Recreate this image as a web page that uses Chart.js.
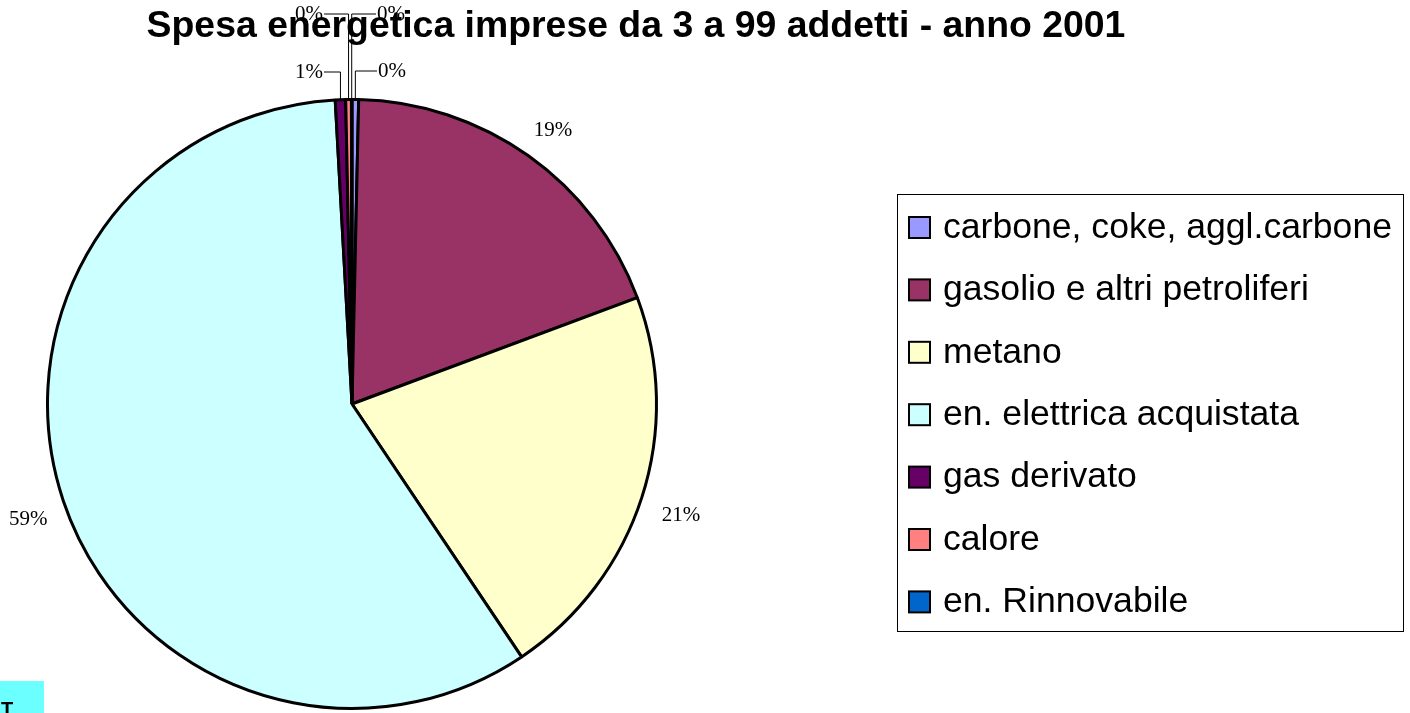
<!DOCTYPE html>
<html>
<head>
<meta charset="utf-8">
<title>Spesa energetica</title>
<script src="https://cdn.jsdelivr.net/npm/chart.js@4.4.0/dist/chart.umd.min.js"></script>
<style>
  body { margin: 0; background: #fff; }
  canvas { display: block; }
</style>
</head>
<body>
<canvas id="myChart" width="1410" height="713"></canvas>
<script>
//DATI
var categorie = ["carbone, coke, aggl.carbone", "gasolio e altri petroliferi", "metano",
                 "en. elettrica acquistata", "gas derivato", "calore", "en. Rinnovabile"];
var spesa = [0.35, 19.0, 21.3, 58.6, 0.55, 0.3, 0.03];
var colori = ["#9999FF", "#993366", "#FFFFCC", "#CCFFFF", "#660066", "#FF8080", "#0066CC"];
var titolo = "Spesa energetica imprese da 3 a 99 addetti - anno 2001";

//posizione etichette delle fette piccole (rispetto al centro della torta)
var piccole = { 0: [40, -333], 4: [-43, -332], 5: [-43, -390], 6: [39, -390] };

//Etichette percentuali + linee guida
const etichette = {
  id: "etichette",
  afterDraw: (chart) => {
    let ctx = chart.ctx;
    let meta = chart.getDatasetMeta(0);
    let tot = spesa.reduce((a, b) => a + b, 0);

    ctx.save();
    ctx.font = '21px "Liberation Serif", "Times New Roman", serif';
    ctx.fillStyle = "#000";
    ctx.strokeStyle = "#000";
    ctx.lineWidth = 1;
    ctx.textAlign = "center";
    ctx.textBaseline = "middle";

    meta.data.forEach((arc, i) => {
      let p = arc.getProps(["x", "y", "startAngle", "endAngle", "outerRadius"], true);
      let mid = (p.startAngle + p.endAngle) / 2;
      let txt = Math.round(spesa[i] / tot * 100) + "%";
      let pos = piccole[i];
      if (pos) {
        let ax = p.x + Math.cos(mid) * p.outerRadius;
        let ay = p.y + Math.sin(mid) * p.outerRadius;
        let lx = p.x + pos[0], ly = p.y + pos[1];
        let w = ctx.measureText(txt).width;
        let ex = pos[0] < 0 ? lx + w / 2 + 1 : lx - w / 2 - 1;
        ctx.beginPath();
        ctx.moveTo(ex, ly);
        ctx.lineTo(ax, ly);
        ctx.lineTo(ax, ay);
        ctx.stroke();
        ctx.fillText(txt, lx, ly);
      } else {
        let r = p.outerRadius + 39;
        ctx.fillText(txt, p.x + Math.cos(mid) * r + 2, p.y + Math.sin(mid) * r + 6);
      }
    });

    //Titolo (sopra le etichette)
    ctx.font = 'bold 37.4px "Liberation Sans", Arial, sans-serif';
    ctx.fillText(titolo, 636, 27);

    //Legenda
    ctx.strokeStyle = "#000";
    ctx.strokeRect(897.5, 194.5, 506, 437);
    ctx.font = '35.6px "Liberation Sans", Arial, sans-serif';
    ctx.textAlign = "left";
    chart.data.labels.forEach((lab, i) => {
      let y = 227 + i * 62.4;
      ctx.fillStyle = colori[i];
      ctx.fillRect(909, y - 10, 21, 21);
      ctx.lineWidth = 2;
      ctx.strokeRect(909, y - 10, 21, 21);
      ctx.fillStyle = "#000";
      ctx.fillText(lab, 943, y + 1);
    });

    //riquadro in basso a sinistra
    ctx.fillStyle = "#6CFFFF";
    ctx.fillRect(0, 681, 44, 32);
    ctx.fillStyle = "#000";
    ctx.font = 'bold 20px "Liberation Sans", Arial, sans-serif';
    ctx.textBaseline = "alphabetic";
    ctx.fillText("T", 1, 716);
    ctx.restore();
  }
};

//Torta
var chart = new Chart(document.getElementById("myChart"), {
  type: "pie",
  data: {
    labels: categorie,
    datasets: [{
      data: spesa,
      backgroundColor: colori,
      borderColor: "#000",
      borderWidth: 3
    }]
  },
  options: {
    responsive: false,
    animation: false,
    layout: { padding: { left: 46, top: 98, right: 752, bottom: 3 } },
    plugins: {
      legend: { display: false },
      title: { display: false },
      tooltip: { enabled: false }
    }
  },
  plugins: [etichette]
});
</script>
</body>
</html>
